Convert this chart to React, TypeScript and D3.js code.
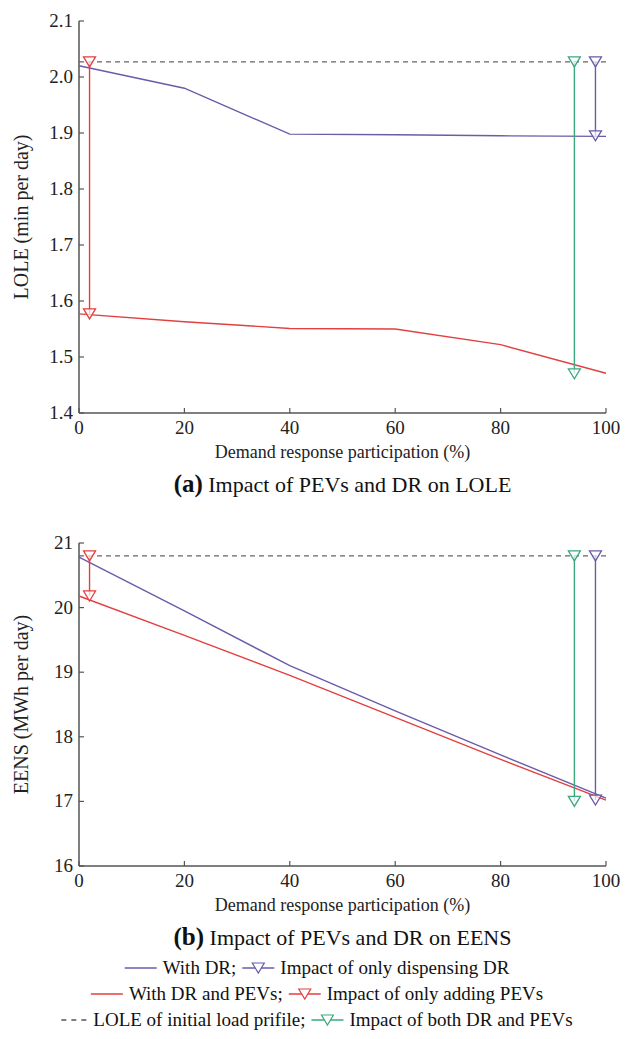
import React, { useEffect, useRef } from "react";
import * as d3 from "d3";

// demand response participation (%)
const participation = [0, 20, 40, 60, 80, 100];

// LOLE (min per day)
const loleWithDR = [2.02, 1.98, 1.898, 1.897, 1.895, 1.894];
const loleWithDRPEV = [1.577, 1.563, 1.551, 1.55, 1.522, 1.471];
const loleBase = 2.027;
const loleTicks = [1.4, 1.5, 1.6, 1.7, 1.8, 1.9, 2.0, 2.1];

// EENS (MWh per day)
const eensWithDR = [20.78, 19.95, 19.1, 18.4, 17.72, 17.05];
const eensWithDRPEV = [20.18, 19.57, 18.95, 18.3, 17.65, 17.02];
const eensBase = 20.8;
const eensTicks = [16, 17, 18, 19, 20, 21];

// impact arrows: adding PEVs, both DR and PEVs, dispensing DR
const impactX = [2, 94, 98];
const loleImpactEnd = [1.577, 1.47, 1.895];
const eensImpactEnd = [20.18, 17.0, 17.02];

const xTicks = [0, 20, 40, 60, 80, 100];

const PURPLE = "#6b5ba8";
const RED = "#e2403f";
const GREEN = "#3aa97e";
const GREY = "#555";
const FONT = '"Liberation Serif", serif';

const tri = "M-6,-5L6,-5L0,5Z";

function App() {
  const ref = useRef<SVGSVGElement>(null);

  useEffect(() => {
    const svg = d3.select(ref.current);
    svg.selectAll("*").remove();

    const x = d3.scaleLinear().domain([0, 100]).range([79, 606]);

    const panels = [
      {
        yDomain: [1.4, 2.1], yRange: [413, 21], ticks: loleTicks, fmt: d3.format(".1f"),
        dr: loleWithDR, drpev: loleWithDRPEV, base: loleBase, ends: loleImpactEnd,
        ylabel: "LOLE (min per day)", tag: "(a)", caption: " Impact of PEVs and DR on LOLE",
      },
      {
        yDomain: [16, 21], yRange: [866, 543], ticks: eensTicks, fmt: d3.format("d"),
        dr: eensWithDR, drpev: eensWithDRPEV, base: eensBase, ends: eensImpactEnd,
        ylabel: "EENS (MWh per day)", tag: "(b)", caption: " Impact of PEVs and DR on EENS",
      },
    ];

    panels.forEach((p) => {
      const y = d3.scaleLinear().domain(p.yDomain).range(p.yRange);
      const g = svg.append("g");
      const y0 = y(p.yDomain[0]);
      const y1 = y(p.yDomain[1]);

      // axes
      g.append("line").attr("x1", x(0)).attr("x2", x(0)).attr("y1", y1).attr("y2", y0)
        .attr("stroke", GREY).attr("stroke-width", 1.5);
      g.append("line").attr("x1", x(0)).attr("x2", x(100)).attr("y1", y0).attr("y2", y0)
        .attr("stroke", GREY).attr("stroke-width", 1.5);

      p.ticks.forEach((t) => {
        g.append("line").attr("x1", x(0)).attr("x2", x(0) + 5).attr("y1", y(t)).attr("y2", y(t))
          .attr("stroke", GREY).attr("stroke-width", 1.2);
        g.append("text").attr("x", x(0) - 6).attr("y", y(t) + 6).attr("text-anchor", "end")
          .style("font-size", "19px").style("font-family", FONT).attr("fill", "#222").text(p.fmt(t));
      });
      xTicks.forEach((t) => {
        g.append("line").attr("x1", x(t)).attr("x2", x(t)).attr("y1", y0).attr("y2", y0 - 5)
          .attr("stroke", GREY).attr("stroke-width", 1.2);
        g.append("text").attr("x", x(t)).attr("y", y0 + 21).attr("text-anchor", "middle")
          .style("font-size", "19px").style("font-family", FONT).attr("fill", "#222").text(t);
      });

      g.append("text").attr("x", x(50)).attr("y", y0 + 45).attr("text-anchor", "middle")
        .style("font-size", "18px").style("font-family", FONT).attr("fill", "#222")
        .text("Demand response participation (%)");

      const cap = g.append("text").attr("x", x(50)).attr("y", y0 + 79).attr("text-anchor", "middle")
        .style("font-family", FONT).attr("fill", "#111");
      cap.append("tspan").style("font-weight", "bold").style("font-size", "25px").text(p.tag);
      cap.append("tspan").style("font-size", "22px").text(p.caption);

      g.append("text")
        .attr("transform", `translate(28,${(y0 + y1) / 2}) rotate(-90)`)
        .attr("text-anchor", "middle").style("font-size", "20px").style("font-family", FONT)
        .attr("fill", "#222").text(p.ylabel);

      // base line
      g.append("line").attr("x1", x(0)).attr("x2", x(100)).attr("y1", y(p.base)).attr("y2", y(p.base))
        .attr("stroke", "#666").attr("stroke-width", 1.2).attr("stroke-dasharray", "5,4");

      const line = d3.line<number>().x((_, i) => x(participation[i])).y((d) => y(d));
      g.append("path").attr("d", line(p.dr)).attr("fill", "none").attr("stroke", PURPLE).attr("stroke-width", 1.4);
      g.append("path").attr("d", line(p.drpev)).attr("fill", "none").attr("stroke", RED).attr("stroke-width", 1.4);

      const colors = [RED, GREEN, PURPLE];
      impactX.forEach((ix, i) => {
        g.append("line").attr("x1", x(ix)).attr("x2", x(ix)).attr("y1", y(p.base)).attr("y2", y(p.ends[i]))
          .attr("stroke", colors[i]).attr("stroke-width", 1.4);
        [p.base, p.ends[i]].forEach((v) => {
          g.append("path").attr("d", tri).attr("transform", `translate(${x(ix)},${y(v)})`)
            .attr("fill", "white").attr("fill-opacity", 0.7).attr("stroke", colors[i]).attr("stroke-width", 1.3);
        });
      });
    });

    // legend
    const rows = [
      [{ kind: "solid", color: PURPLE, label: "With DR;" }, { kind: "marker", color: PURPLE, label: "Impact of only dispensing DR" }],
      [{ kind: "solid", color: RED, label: "With DR and PEVs;" }, { kind: "marker", color: RED, label: "Impact of only adding PEVs" }],
      [{ kind: "dash", color: "#555", label: "LOLE of initial load prifile;" }, { kind: "marker", color: GREEN, label: "Impact of both DR and PEVs" }],
    ];
    rows.forEach((row, r) => {
      const g = svg.append("g");
      let cx = 0;
      row.forEach((item, k) => {
        if (k > 0) cx += 6;
        const ly = -6;
        const w = item.kind === "dash" ? 26 : 32;
        g.append("line").attr("x1", cx).attr("x2", cx + w).attr("y1", ly).attr("y2", ly)
          .attr("stroke", item.color).attr("stroke-width", 1.3)
          .attr("stroke-dasharray", item.kind === "dash" ? "5,5" : null);
        if (item.kind === "marker") {
          g.append("path").attr("d", tri).attr("transform", `translate(${cx + w / 2},${ly})`)
            .attr("fill", "white").attr("stroke", item.color).attr("stroke-width", 1.2);
        }
        cx += w + 6;
        const t = g.append("text").attr("x", cx).attr("y", 0).style("font-size", "19px")
          .style("font-family", FONT).attr("fill", "#111").text(item.label);
        cx += (t.node() as SVGTextElement).getComputedTextLength();
      });
      g.attr("transform", `translate(${317 - cx / 2},${974 + r * 26})`);
    });
  }, []);

  return (
    <svg ref={ref} width={634} height={1039}
      style={{ position: "absolute", left: 0, top: 0, background: "#fff", fontFamily: FONT }} />
  );
}

export default App;
